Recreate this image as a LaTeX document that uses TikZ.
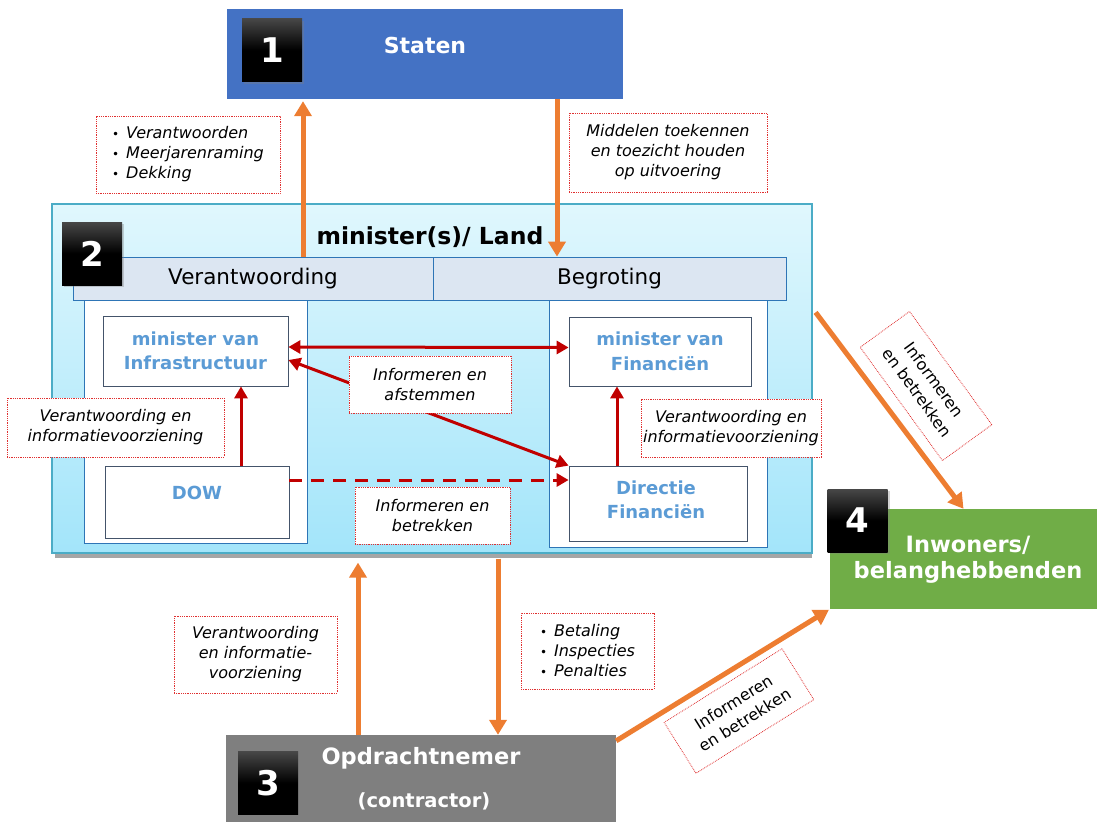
\documentclass[tikz,border=0pt]{standalone}
\usepackage{fontspec}
\setmainfont{DejaVu Sans}
\usetikzlibrary{arrows.meta,calc,shadows}
\definecolor{stBlue}{HTML}{4472C4}
\definecolor{orangeA}{HTML}{ED7D31}
\definecolor{redA}{HTML}{C00000}
\definecolor{grnA}{HTML}{70AD47}
\definecolor{gryA}{HTML}{7F7F7F}
\definecolor{txtBlue}{HTML}{5B9BD5}
\definecolor{hdrFill}{HTML}{DCE6F2}
\definecolor{panelLine}{HTML}{2E75B6}
\definecolor{boxLine}{HTML}{44546A}
\definecolor{mainTop}{HTML}{E0F7FD}
\definecolor{mainBot}{HTML}{A3E5FA}
\definecolor{mainLine}{HTML}{4BACC6}
\definecolor{labLine}{HTML}{E03030}
\newcommand{\bl}{{\upshape\fontsize{12}{12}\selectfont\textbullet}\hspace{7pt}}
\begin{document}
\begin{tikzpicture}[x=1pt,y=-1pt,
  badge/.style={minimum width=60pt,minimum height=63pt,inner sep=0pt,
    top color=black!72,bottom color=black,middle color=black,text=white,
    font=\fontsize{34}{34}\selectfont\bfseries,
    drop shadow={opacity=0.35,shadow xshift=2pt,shadow yshift=-2pt}},
  whitetitle/.style={text=white,font=\fontsize{22}{26}\selectfont\bfseries,align=center,inner sep=0pt},
  lbl/.style={draw=labLine,densely dotted,line width=0.8pt,fill=white,inner sep=0pt,
    font=\fontsize{16}{20}\selectfont\itshape,align=center},
  actor/.style={draw=boxLine,line width=0.8pt,fill=white,inner sep=0pt,text=txtBlue,
    font=\fontsize{18}{24.5}\selectfont\bfseries,align=center},
  actortext/.style={text=txtBlue,font=\fontsize{18}{24.5}\selectfont\bfseries,align=center,inner sep=0pt},
  panel/.style={draw=panelLine,line width=0.8pt,fill=white,inner sep=0pt},
  hdr/.style={draw=panelLine,line width=0.8pt,fill=hdrFill,inner sep=0pt,
    font=\fontsize{21.5}{24}\selectfont},
  oarrow/.style={draw=orangeA,line width=5pt,-{Triangle[width=17pt,length=15pt]}},
  rarrow/.style={draw=redA,line width=3pt,-{Triangle[width=13pt,length=12pt]}},
  rdouble/.style={draw=redA,line width=3pt,{Triangle[width=13pt,length=12pt]}-{Triangle[width=13pt,length=12pt]}}
]
\useasboundingbox (0,0) rectangle (1097,822);

% ---- 1 Staten
\node[fill=stBlue,minimum width=396pt,minimum height=90pt,inner sep=0pt] (staten) at (425,54) {};
\node[whitetitle] (statenT) at (425,45) {Staten};
\node[badge] (b1) at (272,50) {1};

% ---- 2 minister(s)/ Land
\fill[black!35] (55,553) rectangle (812,558);
\node[draw=mainLine,line width=1.2pt,top color=mainTop,bottom color=mainBot,
  minimum width=760pt,minimum height=349pt,inner sep=0pt] (main) at (432,378.5) {};
\node[font=\fontsize{23.5}{26}\selectfont\bfseries,inner sep=0pt] (mainT) at (430,237) {minister(s)/ Land};
\node[hdr,minimum width=360pt,minimum height=43pt] (verh) at (253,278.5) {Verantwoording};
\node[hdr,minimum width=353pt,minimum height=43pt] (begr) at (609.5,278.5) {Begroting};
\node[panel,minimum width=223pt,minimum height=243pt] (lpanel) at (195.5,421.5) {};
\node[panel,minimum width=218pt,minimum height=247pt] (rpanel) at (658,423.5) {};
\node[actor,minimum width=185pt,minimum height=70pt] (infra) at (195.5,351) {minister van\\Infrastructuur};
\node[actor,minimum width=182pt,minimum height=69pt] (fin) at (660,351.5) {minister van\\Financiën};
\node[actor,minimum width=184pt,minimum height=72pt] (dow) at (197,502) {};
\node[actortext] (dowT) at (197,493) {DOW};
\node[actor,minimum width=178pt,minimum height=75pt] (dirfin) at (658,503.5) {};
\node[actortext] (dirfinT) at (656,500) {Directie\\Financiën};

% red connectors
\coordinate (r3) at (241,0);
\coordinate (r4) at (617,0);
\coordinate (r5) at (0,480);
\draw[rdouble] ($(infra.east)+(0,-4)$) -- ($(fin.west)+(0,-4)$);
\draw[rdouble] ($(infra.east)+(0,9)$) -- (dirfin.north west);
\draw[rarrow] (r3 |- dow.north) -- (r3 |- infra.south);
\draw[rarrow] (r4 |- dirfin.north) -- (r4 |- fin.south);
\draw[rarrow,dash pattern=on 13pt off 9pt] (dow.east |- r5) -- (dirfin.west |- r5);

\node[lbl,minimum width=162pt,minimum height=57pt] (lab3) at (430,384.5) {Informeren en\\afstemmen};
\node[lbl,minimum width=217pt,minimum height=59pt] (lab4) at (115.5,427.5) {Verantwoording en\\informatievoorziening};
\node[lbl,minimum width=180pt,minimum height=58pt] (lab5) at (731,428) {Verantwoording en\\informatievoorziening};
\node[lbl,minimum width=155pt,minimum height=57pt] (lab6) at (432.5,515.5) {Informeren en\\betrekken};

\node[badge] (b2) at (92,253.5) {2};

% ---- orange connectors top
\coordinate (c1) at (303,0);
\coordinate (c2) at (557,0);
\draw[oarrow] (c1 |- verh.north) -- ([yshift=-2pt]c1 |- staten.south);
\draw[oarrow] (c2 |- staten.south) -- (c2 |- begr.north);
\node[lbl,minimum width=184pt,minimum height=77pt,align=left] (lab1) at (188,154.5)
  {\bl Verantwoorden\\\bl Meerjarenraming\\\bl Dekking};
\node[lbl,minimum width=198pt,minimum height=79pt] (lab2) at (668,152.5)
  {Middelen toekennen\\en toezicht houden\\op uitvoering};

% ---- 4 Inwoners
\node[fill=grnA,minimum width=267pt,minimum height=100pt,inner sep=0pt] (green) at (963.5,559) {};
\node[whitetitle,font=\fontsize{22.5}{26}\selectfont\bfseries] (greenT) at (968,560) {Inwoners/\\belanghebbenden};
\node[badge] (b4) at (857.5,520.5) {4};

% ---- 3 Opdrachtnemer
\node[fill=gryA,minimum width=390pt,minimum height=87pt,inner sep=0pt] (opd) at (421,778.5) {};
\node[whitetitle,font=\fontsize{22.5}{26}\selectfont\bfseries] (opdT) at (421,758) {Opdrachtnemer};
\node[whitetitle,font=\fontsize{19.5}{22}\selectfont\bfseries] (opdC) at (424,801) {(contractor)};
\node[badge] (b3) at (268,783) {3};

% ---- orange connectors bottom/right
\coordinate (c3) at (358,0);
\coordinate (c4) at (498,0);
\draw[oarrow,shorten >=9pt] (c3 |- opd.north) -- (c3 |- main.south);
\draw[oarrow,shorten <=5pt] (c4 |- main.south) -- (c4 |- opd.north);
\draw[oarrow] ($(main.north east)+(3,109)$) -- (green.north);
\draw[oarrow,shorten >=1pt] ($(opd.north east)+(0,6)$) -- (green.south west);

\node[lbl,minimum width=163pt,minimum height=77pt] (lab7) at (255.5,654.5)
  {Verantwoording\\en informatie-\\voorziening};
\node[lbl,minimum width=133pt,minimum height=76pt,align=left] (lab8) at (587.5,651)
  {\bl Betaling\\\bl Inspecties\\\bl Penalties};
\node[lbl,font=\fontsize{16}{21}\selectfont,minimum width=140pt,minimum height=61pt,rotate=-54] (lab9) at (926,386)
  {Informeren\\en betrekken};
\node[lbl,font=\fontsize{16}{21}\selectfont,minimum width=139pt,minimum height=60pt,rotate=32] (lab10) at (739,711)
  {Informeren\\en betrekken};
\end{tikzpicture}
\end{document}
